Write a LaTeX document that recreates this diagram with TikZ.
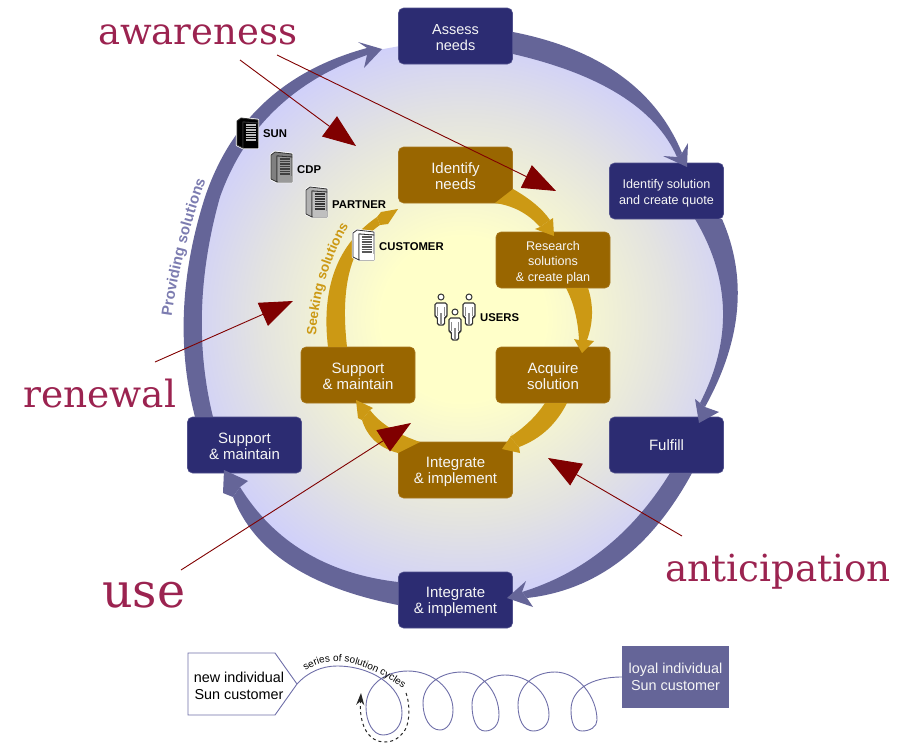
\documentclass[tikz,border=0pt]{standalone}
\usepackage{fontspec}
\setmainfont{Liberation Sans}
\newfontfamily\redserif{DejaVu Serif}
\usetikzlibrary{arrows.meta,decorations.text,calc}
\definecolor{navybox}{HTML}{2C2C72}
\definecolor{navyedge}{HTML}{50508C}
\definecolor{brownbox}{HTML}{996600}
\definecolor{brownedge}{HTML}{A87820}
\definecolor{ringblue}{HTML}{656598}
\definecolor{ringgold}{HTML}{CC9914}
\definecolor{provtext}{HTML}{7C7CB0}
\definecolor{redlabel}{HTML}{9B2350}
\definecolor{redarrow}{HTML}{800000}
\definecolor{spiral}{HTML}{6E6EA8}
\definecolor{boxtext}{HTML}{F6F6F6}
\pgfdeclareradialshading{discshade}{\pgfpoint{0bp}{0bp}}{%
  rgb(0bp)=(1,1,0.79);rgb(7.5bp)=(1,1,0.79);rgb(18.5bp)=(0.89,0.89,0.88);
  rgb(27bp)=(0.80,0.80,1);rgb(100bp)=(0.80,0.80,1)}
\tikzset{
  bluebox/.style={draw=navyedge,line width=0.6pt,fill=navybox,rounded corners=5pt,minimum width=114pt,minimum height=56pt,text=boxtext,align=center,inner sep=0pt,font=\fontsize{15}{16}\selectfont},
  brownnode/.style={draw=brownedge,line width=0.6pt,fill=brownbox,rounded corners=5pt,minimum width=114pt,minimum height=56pt,text=boxtext,align=center,inner sep=0pt,font=\fontsize{15}{16}\selectfont},
  smalltext/.style={font=\fontsize{12.6}{15.4}\selectfont},
  iconlabel/.style={anchor=west,inner sep=0pt,font=\fontsize{11.3}{12}\selectfont\bfseries,text=black},
  redtext/.style={anchor=base west,inner sep=0pt,text=redlabel},
  redline/.style={draw=redarrow,line width=0.9pt,-{Triangle[length=33pt,width=25pt,fill=redarrow]}},
  custtext/.style={inner sep=0pt,align=center,font=\fontsize{14.4}{17}\selectfont},
}
\newcommand\dn{\rule{0pt}{14pt}}
\newcommand\thru[3]{#1 .. controls ($#2!-.3333!#3$) and ($#2!-.3333!#1$) .. #3}
\newcommand\shaft[7]{\fill[#1] \thru{#2}{#3}{#4} -- \thru{#5}{#6}{#7} -- cycle;}
\newcommand\flowhead[6]{\fill[#1] #2 -- #3 -- #4 -- #5 -- #6 -- cycle;}
\newcommand\serv[6]{% x y side face stripe bottom
  \begin{scope}[shift={(#1,#2)}]
    \draw[white,line width=2.4pt,fill=white,line join=round] (0,3) -- (4,0) -- (21,2) -- (21,30) -- (6,30) -- (0,27) -- cycle;
    \draw[black!80,line width=0.8pt,fill=#3,line join=round] (0,3) -- (4,0) -- (21,2) -- (21,5) -- (6,4) -- (6,30) -- (0,27) -- cycle;
    \draw[black!80,line width=0.8pt,fill=#4,line join=round] (6,4) -- (21,5) -- (21,30) -- (6,30) -- cycle;
    \foreach \k in {7,9.5,12,14.5,17,19.5,22} \draw[#5,line width=1.1pt] (8.5,\k) -- (19,\k);
    \fill[#6] (6.6,24) rectangle (20.5,29.5);
  \end{scope}}
\newcommand\person[2]{%
  \begin{scope}[shift={(#1,#2)}]
    \draw[black!80,line width=1pt,fill=white] (0,4) circle (3);
    \draw[black!80,line width=1.1pt,fill=white,rounded corners=1.6pt] (-6,24) -- (-6,10) -- (6,10) -- (6,24) -- (3.6,24) -- (3.6,32) -- (-3.6,32) -- (-3.6,24) -- cycle;
    \fill[black!45] (-1.3,20) rectangle (1.3,31.5);
    \draw[black!45,line width=.7pt] (-3.7,14) -- (-3.7,23) (3.7,14) -- (3.7,23);
  \end{scope}}
\begin{document}
\begin{tikzpicture}[x=1pt,y=-1pt]
\useasboundingbox (0,0) rectangle (899,744);
% disc
\shade[shading=discshade] \thru{(513,43)}{(620,85)}{(680,155)} -- (709,219) -- \thru{(709,219)}{(730,310)}{(702,405)} -- (681,473) -- \thru{(681,473)}{(612,555)}{(524,595)} -- (398,594) -- \thru{(398,594)}{(297,558)}{(236,492)} -- (204,417) -- \thru{(204,417)}{(193,310)}{(212,197)} -- \thru{(212,197)}{(270,106)}{(367,52)} -- (400,46) -- cycle;
% boxes
\node[bluebox,font=\fontsize{14.5}{16}\selectfont] (assess) at (455.5,36) {\dn Assess\\needs};
\node[bluebox,smalltext] (idsol) at (666.5,191) {\dn Identify solution\\and create quote};
\node[bluebox] (fulfill) at (666.5,445) {Fulfill};
\node[bluebox] (intb) at (455.5,600) {\dn Integrate\\\& implement};
\node[bluebox] (supb) at (244.5,445) {\dn Support\\\& maintain};
\node[brownnode] (idneeds) at (455.5,175) {\dn Identify\\needs};
\node[brownnode,smalltext] (research) at (553,260) {\dn Research\\solutions\\\& create plan};
\node[brownnode] (acquire) at (553,375) {\dn Acquire\\solution};
\node[brownnode] (intg) at (455.5,470) {\dn Integrate\\\& implement};
\node[brownnode] (supg) at (358,375) {\dn Support\\\& maintain};
% outer ring
\shaft{ringblue}{(513,32)}{(620,75)}{(682,153)}{(677,157)}{(620,95)}{(513,54)}
\flowhead{ringblue}{(663,156)}{(687,167)}{(688,143)}{(682,153)}{(677,157)}
\shaft{ringblue}{(722,219)}{(737,310)}{(705,407)}{(700,403)}{(723,310)}{(695,219)}
\flowhead{ringblue}{(695,399)}{(699,423)}{(719,412)}{(705,407)}{(700,403)}
\shaft{ringblue}{(692,473)}{(620,561)}{(527,598)}{(522,592)}{(605,548)}{(670,473)}
\flowhead{ringblue}{(526,581)}{(507,598)}{(533,607)}{(527,598)}{(522,592)}
\shaft{ringblue}{(398,605)}{(290,565)}{(233,497)}{(240,487)}{(305,552)}{(398,582)}
\flowhead{ringblue}{(248,481)}{(224,470)}{(223,493)}{(233,497)}{(240,487)}
\fill[ringblue] \thru{(195,417)}{(184,310)}{(205,197)} -- \thru{(205,197)}{(265,102)}{(367,48)} -- \thru{(367,55)}{(275,110)}{(220,197)} -- \thru{(220,197)}{(202,310)}{(213,417)} -- cycle;
\flowhead{ringblue}{(358,42)}{(382,49)}{(364,68)}{(367,55)}{(367,48)}
% inner ring
\shaft{ringgold}{(513,189)}{(535,204)}{(550,220)}{(540,227)}{(520,211)}{(495,203)}
\flowhead{ringgold}{(553,218)}{(554,236)}{(535,229)}{(540,227)}{(550,220)}
\shaft{ringgold}{(588,288)}{(592,314)}{(587,340)}{(579,340)}{(575,312)}{(566,288)}
\flowhead{ringgold}{(574,339)}{(582,353)}{(594,341)}{(587,340)}{(579,340)}
\shaft{ringgold}{(567,403)}{(547,430)}{(519,447)}{(510,437)}{(530,421)}{(545,403)}
\flowhead{ringgold}{(513,433)}{(502,449)}{(520,453)}{(519,447)}{(510,437)}
\shaft{ringgold}{(398,453)}{(375,441)}{(362,420)}{(370,410)}{(390,428)}{(420,442)}
\flowhead{ringgold}{(373,408)}{(356,400)}{(358,418)}{(362,420)}{(370,410)}
\shaft{ringgold}{(328,347)}{(335,270)}{(377,217)}{(380,225)}{(350,270)}{(347,347)}
\flowhead{ringgold}{(381,212)}{(398,209)}{(388,224)}{(380,225)}{(377,217)}
% curved labels
\path[decorate,decoration={text along path,text align=center,text={|\fontsize{15}{16}\selectfont\bfseries\color{provtext}|Providing solutions}}] (171,322) .. controls (175,285) and (190,220) .. (208,175);
\path[decorate,decoration={text along path,text align=center,text={|\fontsize{13.5}{15}\selectfont\bfseries\color{ringgold}|Seeking solutions}}] (316,340) .. controls (317,300) and (330,255) .. (351,222);
% icons
\serv{237}{118}{black}{black}{black!25}{black}
\serv{271}{152}{black!50}{black!40}{black!75}{black!40}
\serv{306}{187}{black!30}{black!25}{black!80}{black!25}
\serv{353}{230}{white}{white}{black!65}{white}
\node[iconlabel] (lsun) at (263,134) {SUN};
\node[iconlabel] (lcdp) at (297,170) {CDP};
\node[iconlabel] (lpartner) at (332,204.5) {PARTNER};
\node[iconlabel] (lcustomer) at (379,247) {CUSTOMER};
\person{441}{293}
\person{469}{293}
\person{455}{308}
\node[iconlabel] (lusers) at (480,318) {USERS};
% red labels and arrows
\node[redtext,font=\redserif\fontsize{37}{40}\selectfont] (awareness) at (98,44) {awareness};
\node[redtext,font=\redserif\fontsize{37.5}{40}\selectfont] (renewal) at (23,407) {renewal};
\node[redtext,font=\redserif\fontsize{47.5}{50}\selectfont] (use) at (102,607) {use};
\node[redtext,font=\redserif\fontsize{37.3}{40}\selectfont] (anticipation) at (665,581) {anticipation};
\coordinate (aw1s) at (240,60); \coordinate (aw1t) at (356,146);
\coordinate (aw2s) at (277,55); \coordinate (aw2t) at (556,191);
\coordinate (rens) at (155,362); \coordinate (rent) at (293,301);
\coordinate (uses) at (181,570); \coordinate (uset) at (411,423);
\coordinate (ants) at (682,536); \coordinate (antt) at (548,458);
\draw[redline] (aw1s) -- (aw1t);
\draw[redline] (aw2s) -- (aw2t);
\draw[redline] (rens) -- (rent);
\draw[redline] (uses) -- (uset);
\draw[redline] (ants) -- (antt);
% customer strip
\draw[spiral,line width=0.9pt] (297,684) -- (275,653) -- (188,653) -- (188,715) -- (275,715) -- (297,684);
\node[custtext] (newc) at (239,685.5) {new individual\\Sun customer};
\node[fill=ringblue,minimum width=107pt,minimum height=62pt,text=boxtext,custtext,inner sep=0pt] (loyal) at (675.5,677) {loyal individual\\Sun customer};
\coordinate (spstart) at (297,684);
\draw[spiral,line width=0.9pt] (spstart)
  .. controls (308,672) and (322,666) .. (337,666)
  .. controls (370,666) and (402,685) .. (402,713)
  .. controls (402,726) and (394,735) .. (383,735)
  .. controls (373,735) and (366,722) .. (366,707)
  .. controls (366,685) and (385,671) .. (408,671)
  .. controls (432,671) and (453,688) .. (453,710)
  .. controls (453,722) and (447,730) .. (440,730)
  .. controls (430,730) and (423,718) .. (423,703)
  .. controls (423,685) and (440,672) .. (462,672)
  .. controls (482,672) and (499,692) .. (499,715)
  .. controls (499,725) and (493,731) .. (485,731)
  .. controls (477,731) and (472,720) .. (472,705)
  .. controls (472,688) and (487,675) .. (505,675)
  .. controls (528,675) and (549,692) .. (549,715)
  .. controls (549,725) and (542,731) .. (533,731)
  .. controls (524,731) and (518,720) .. (518,705)
  .. controls (518,685) and (535,672) .. (555,672)
  .. controls (578,672) and (597,697) .. (597,720)
  .. controls (597,727) and (590,731) .. (582,731)
  .. controls (574,731) and (571,722) .. (571,710)
  .. controls (571,690) and (590,677) .. (loyal.west);
\coordinate (dashstart) at (406,693);
\coordinate (dashend) at (361,693);
\draw[black!85,line width=1pt,dash pattern=on 3pt off 3pt,-{Stealth[length=12pt,width=8pt]}] (dashstart)
  .. controls (410,703) and (410,722) .. (405,730)
  .. controls (399,739) and (392,742) .. (385,742)
  .. controls (368,742) and (359,725) .. (dashend);
\path[decorate,decoration={text along path,text align=center,text={|\fontsize{10}{12}\selectfont|series of solution cycles}}] (301,675) .. controls (324,653) and (360,657) .. (408,692);
\end{tikzpicture}
\end{document}
